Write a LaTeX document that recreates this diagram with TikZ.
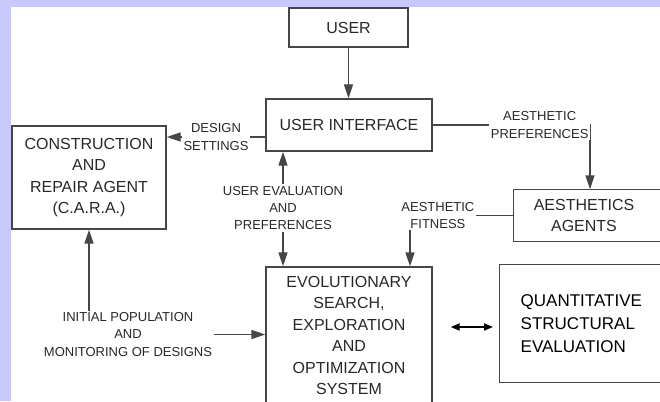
\documentclass[tikz,border=0pt]{standalone}
\usepackage{fontspec}
\setmainfont{Liberation Sans}
\usetikzlibrary{arrows.meta,calc}
\definecolor{lav}{RGB}{200,200,252}
\definecolor{ink}{RGB}{40,40,40}
\definecolor{edge}{RGB}{70,70,70}
\tikzset{
 boxnode/.style={draw=edge, line width=1.4pt, text=ink, align=center, font=\fontsize{16}{21.5}\selectfont, inner sep=0pt},
 lbl/.style={text=ink, align=center, font=\fontsize{13}{17.2}\selectfont, inner sep=1.5pt, fill=white},
 arr/.style={draw=edge, line width=1.4pt, -{Triangle[length=14pt,width=9pt]}},
 conn/.style={draw=edge, line width=1.4pt},
 dbl/.style={draw=black, line width=1.8pt, {Triangle[length=9pt,width=7pt]}-{Triangle[length=9pt,width=7pt]}},
}
\begin{document}
\begin{tikzpicture}[x=1pt,y=-1pt]
\useasboundingbox (0,0) rectangle (660,401);
\fill[lav] (0,0) rectangle (660,401);
\fill[white] (11,7) rectangle (660,401);
\node[boxnode, minimum width=119pt, minimum height=39pt] (user) at (348.5,27.5) {USER};
\node[boxnode, minimum width=166pt, minimum height=52pt] (ui) at (349,125) {USER INTERFACE};
\node[boxnode, minimum width=154pt, minimum height=103pt] (cara) at (89,177.5) {CONSTRUCTION\\AND\\REPAIR AGENT\\(C.A.R.A.)};
\node[boxnode, draw=none, minimum width=140pt, minimum height=51pt] (aes) at (584,215.5) {AESTHETICS\\AGENTS};
\draw[conn] (aes.north west) ++(160,0) -- (aes.north west) -- (aes.south west) -- ++(160,0);
\node[boxnode, minimum width=166pt, minimum height=137pt] (evo) at (349,335.5) {EVOLUTIONARY\\SEARCH,\\EXPLORATION\\AND\\OPTIMIZATION\\SYSTEM};
\node[boxnode, anchor=north west, minimum height=118pt, text width=160pt, inner xsep=21pt, align=left, text=black, font=\fontsize{17}{23}\selectfont] (quant) at (499,264) {QUANTITATIVE\\STRUCTURAL\\EVALUATION};
\node[lbl] (uep) at (283,208) {USER EVALUATION\\AND\\PREFERENCES};
\node[lbl] (ipm) at (128,334.5) {INITIAL POPULATION\\AND\\MONITORING OF DESIGNS};
\draw[arr] (user.south) -- (user.south |- ui.north);
\coordinate (ds) at ([yshift=-12pt]ui.west);
\draw[arr] (ds) -- (ds -| cara.east) node[lbl, midway] {DESIGN\\SETTINGS};
\draw[arr] (ui.east) -| ([xshift=6pt]aes.north) node[lbl, pos=0.34] {AESTHETIC\\PREFERENCES};
\draw[arr] (aes.west) -| ([xshift=61pt]evo.north) node[lbl, pos=0.365] {AESTHETIC\\FITNESS};
\draw[arr] (uep.north) -- (uep.north |- ui.south);
\draw[arr] (uep.south) -- (uep.south |- evo.north);
\draw[arr] (ipm.east) -- (ipm.east -| evo.west);
\draw[arr] (ipm.north -| cara.south) -- (cara.south);
\coordinate (d1) at ([xshift=18pt,yshift=8.5pt]evo.east);
\draw[dbl] (d1) -- ($(d1 -| quant.west)+(-6,0)$);
\end{tikzpicture}
\end{document}
